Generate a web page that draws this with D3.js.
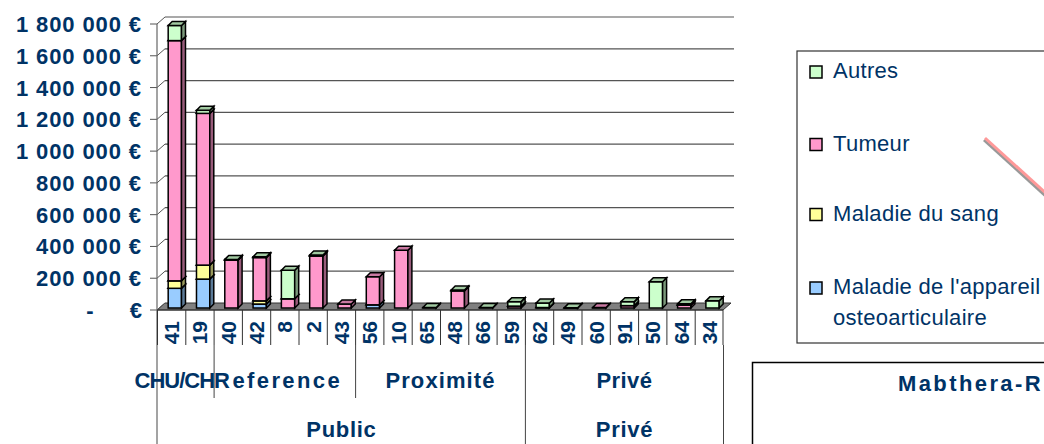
<!DOCTYPE html>
<html>
<head>
<meta charset="utf-8">
<script src="https://cdn.jsdelivr.net/npm/d3@7"></script>
<style>
body { margin: 0; background: #fff; }
svg { display: block; }
text { font-family: "Liberation Sans", Arial, sans-serif; fill: #003366; }
</style>
</head>
<body>
<svg width="1044" height="444"></svg>
<script>
const svg = d3.select("svg");

// data
var categories = ["41","19","40","42","8","2","43","56","10","65","48","66","59","62","49","60","91","50","64","34"];
var groupLabels = ["CHU/CH","Reference","Proximité","Privé"];
var groupSizes = [2,5,6,7];
var outerLabels = ["Public","Privé"];
var outerSizes = [13,7];

var seriesNames = ["Maladie de l'appareil osteoarticulaire","Maladie du sang","Tumeur","Autres"];
var seriesColors = ["#99CCFF","#FFFF99","#FF99CC","#CCFFCC"];
var osteo  = [124000,182000,0,25000,0,0,0,20000,0,0,0,0,0,0,0,0,0,0,0,0];
var sang   = [47000,88000,0,20000,0,0,0,0,0,0,0,0,0,0,0,0,0,0,0,0];
var tumeur = [1512000,955000,302000,273000,58000,328000,25000,177000,364000,0,108000,0,12000,3000,1000,3000,15000,0,18000,0];
var autres = [95000,19000,4000,4000,180000,5000,0,0,0,3000,5000,3000,28000,28000,1000,0,25000,165000,8000,45000];

var yTicks = [0,200000,400000,600000,800000,1000000,1200000,1400000,1600000,1800000];
var yTickLabels = ["-   €","200 000 €","400 000 €","600 000 €","800 000 €","1 000 000 €","1 200 000 €","1 400 000 €","1 600 000 €","1 800 000 €"];

// layout
var x = d3.scaleBand().domain(categories).range([158, 724]);
var y = d3.scaleLinear().domain([0, 1800000]).range([310, 24]);
var bw = x.bandwidth();
var wallDx = 8, wallDy = -7;
var barDx = 4, barDy = -4;
function yb(v){ return y(v) - 2; }

var table = categories.map(function(c, i){
  return {cat: c, s0: osteo[i], s1: sang[i], s2: tumeur[i], s3: autres[i]};
});
var stack = d3.stack().keys(["s0","s1","s2","s3"]);
var layers = stack(table);

// walls and gridlines
var x0 = x.range()[0] - 1, x1 = x.range()[1] - 1;
svg.append("polygon")
  .attr("points", [[x0,310],[x1,310],[x1+wallDx,310+wallDy],[x0+wallDx,310+wallDy]].join(" "))
  .attr("fill", "#808080").attr("stroke", "#333").attr("stroke-width", 1);

yTicks.slice(1).forEach(function(v){
  svg.append("line")
    .attr("x1", x0 + wallDx).attr("x2", x1 + wallDx + 3)
    .attr("y1", y(v) + wallDy).attr("y2", y(v) + wallDy)
    .attr("stroke", "#555").attr("stroke-width", 1.2);
});
yTicks.forEach(function(v){
  svg.append("line")
    .attr("x1", x0 - 7).attr("x2", x0).attr("y1", y(v)).attr("y2", y(v))
    .attr("stroke", "#555");
  svg.append("line")
    .attr("x1", x0).attr("x2", x0 + wallDx).attr("y1", y(v)).attr("y2", y(v) + wallDy)
    .attr("stroke", "#555");
});
svg.append("line")
  .attr("x1", x0).attr("x2", x0).attr("y1", y(1800000)).attr("y2", 444)
  .attr("stroke", "#666").attr("stroke-width", 1.2);
svg.append("line")
  .attr("x1", x0).attr("x2", x1).attr("y1", 310).attr("y2", 310)
  .attr("stroke", "#333").attr("stroke-width", 1.2);

// y labels
yTicks.forEach(function(v, i){
  var lab = yTickLabels[i];
  if (lab.charAt(0) == "-") {
    svg.append("text").attr("x", 90).attr("y", y(v) + 8)
      .attr("text-anchor", "middle").attr("font-size", 22).attr("font-weight", "bold").text("-");
    svg.append("text").attr("x", 142).attr("y", y(v) + 8)
      .attr("text-anchor", "end").attr("font-size", 22).attr("font-weight", "bold").text("€");
  } else {
    svg.append("text").attr("x", 142).attr("y", y(v) + 8)
      .attr("text-anchor", "end").attr("font-size", 22).attr("font-weight", "bold")
      .attr("letter-spacing", 0.9).text(lab);
  }
});

// bars
var bars = svg.append("g");
table.forEach(function(row, i){
  var bx = x(row.cat) + bw * 0.36, w = bw * 0.47;
  layers.forEach(function(layer, k){
    var d = layer[i];
    if (d[1] - d[0] <= 0) return;
    var col = d3.color(seriesColors[k]);
    var yt = yb(d[1]), ybot = yb(d[0]);
    bars.append("rect")
      .attr("x", bx).attr("y", yt).attr("width", w).attr("height", ybot - yt)
      .attr("fill", col).attr("stroke", "#000").attr("stroke-width", 1.5);
    bars.append("polygon")
      .attr("points", [[bx+w,ybot],[bx+w+barDx,ybot+barDy],[bx+w+barDx,yt+barDy],[bx+w,yt]].join(" "))
      .attr("fill", col.darker(1.45)).attr("stroke", "#000").attr("stroke-width", 1.5);
    bars.append("polygon")
      .attr("points", [[bx,yt],[bx+barDx,yt+barDy],[bx+w+barDx,yt+barDy],[bx+w,yt]].join(" "))
      .attr("fill", col.darker(0.65)).attr("stroke", "#000").attr("stroke-width", 1.5);
  });
});

// category labels
categories.forEach(function(c){
  svg.append("text")
    .attr("transform", "translate(" + (x(c) + bw / 2 + 7) + ",321) rotate(-90)")
    .attr("text-anchor", "end").attr("font-size", 21).attr("font-weight", "bold").text(c);
});

// separators
var edges = [];
categories.forEach(function(c){ edges.push(x(c) - 0.5); });
edges.push(x1);
edges.forEach(function(ex){
  svg.append("line").attr("x1", ex).attr("x2", ex).attr("y1", 310).attr("y2", 345)
    .attr("stroke", "#333");
});
var gStart = 0;
groupLabels.forEach(function(g, i){
  var a = x(categories[gStart]) - 0.5;
  var bIdx = gStart + groupSizes[i] - 1;
  var b = x(categories[bIdx]) + bw - 0.5;
  svg.append("line").attr("x1", b).attr("x2", b).attr("y1", 345).attr("y2", 398).attr("stroke", "#444");
  var t = svg.append("text").attr("y", 388).attr("font-size", 22).attr("font-weight", "bold").text(g);
  if (i == 0) t.attr("x", b).attr("text-anchor", "end").attr("letter-spacing", -1);
  else if (i == 1) t.attr("x", a).attr("text-anchor", "start").attr("letter-spacing", 2.4);
  else t.attr("x", (a + b) / 2).attr("text-anchor", "middle").attr("letter-spacing", i == 2 ? 1.1 : 0.4);
  gStart += groupSizes[i];
});
var oStart = 0;
outerLabels.forEach(function(g, i){
  var a = x(categories[oStart]) - 0.5;
  var b = x(categories[oStart + outerSizes[i] - 1]) + bw - 0.5;
  svg.append("line").attr("x1", b).attr("x2", b).attr("y1", 398).attr("y2", 444).attr("stroke", "#444");
  svg.append("text").attr("x", (a + b) / 2).attr("y", 437)
    .attr("text-anchor", "middle").attr("font-size", 22).attr("font-weight", "bold")
    .attr("letter-spacing", 0.7).text(g);
  oStart += outerSizes[i];
});

// legend
svg.append("rect").attr("x", 797).attr("y", 51).attr("width", 300).attr("height", 292)
  .attr("fill", "none").attr("stroke", "#333").attr("stroke-width", 1.2);
var legendOrder = [3, 2, 1, 0];
var legendY = [66, 138.5, 208.5, 282];
legendOrder.forEach(function(k, j){
  svg.append("rect").attr("x", 810).attr("y", legendY[j]).attr("width", 12).attr("height", 12)
    .attr("fill", seriesColors[k]).attr("stroke", "#000").attr("stroke-width", 1.5);
  if (k == 0) {
    svg.append("text").attr("x", 833).attr("y", legendY[j] + 12).attr("font-size", 22)
      .attr("letter-spacing", 0.3).text("Maladie de l'appareil");
    svg.append("text").attr("x", 833).attr("y", legendY[j] + 43).attr("font-size", 22)
      .attr("letter-spacing", 0.3).text("osteoarticulaire");
  } else {
    svg.append("text").attr("x", 833).attr("y", legendY[j] + 12).attr("font-size", 22)
      .attr("letter-spacing", 0.3).text(seriesNames[k]);
  }
});

// leader line of the next chart
svg.append("line").attr("x1", 984).attr("y1", 140).attr("x2", 1048).attr("y2", 198)
  .attr("stroke", "#999").attr("stroke-width", 3);
svg.append("line").attr("x1", 985).attr("y1", 138).attr("x2", 1049).attr("y2", 196)
  .attr("stroke", "#FF9999").attr("stroke-width", 3);

// next chart frame, only its visible title part
svg.append("rect").attr("x", 752.5).attr("y", 362.5).attr("width", 400).attr("height", 200)
  .attr("fill", "none").attr("stroke", "#000").attr("stroke-width", 1.5);
svg.append("text").attr("x", 898).attr("y", 391).attr("font-size", 22).attr("font-weight", "bold")
  .attr("letter-spacing", 2.4).text("Mabthera-R");
</script>
</body>
</html>
